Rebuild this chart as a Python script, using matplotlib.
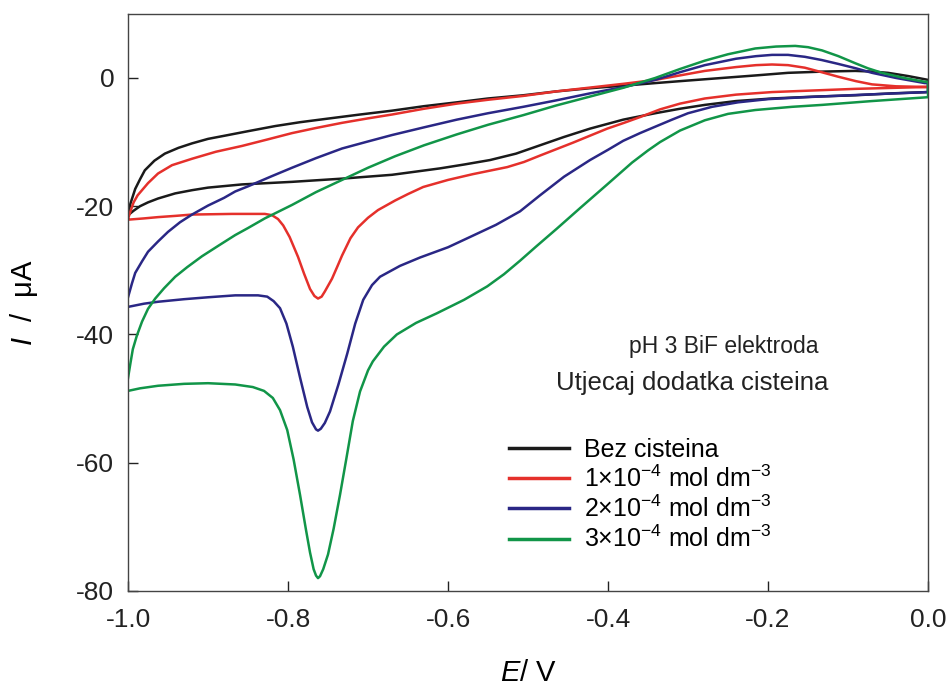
import numpy as np
import matplotlib
matplotlib.use('Agg')
import matplotlib.pyplot as plt

plt.rcParams['font.family'] = ['Liberation Sans', 'DejaVu Sans']
plt.rcParams['mathtext.fontset'] = 'custom'
plt.rcParams['mathtext.rm'] = 'Liberation Sans'
plt.rcParams['mathtext.it'] = 'Liberation Sans:italic'

# Cyclic voltammograms: E / V, I / uA
# each curve = upper branch (-1 -> 0) and lower branch (-1 -> 0)
black_up_E = [-1.0, -0.997, -0.991, -0.985, -0.979, -0.967, -0.954, -0.937, -0.92, -0.9,
              -0.879, -0.85, -0.816, -0.785, -0.754, -0.71, -0.67, -0.63, -0.589, -0.55,
              -0.506, -0.465, -0.4225, -0.38, -0.341, -0.3, -0.2575, -0.215, -0.175, -0.13,
              -0.091, -0.07, -0.05, -0.025, -0.004, 0.0]
black_up_I = [-21.3, -19.6, -17.3, -15.8, -14.4, -12.9, -11.8, -10.9, -10.2, -9.5,
              -9.0, -8.3, -7.5, -6.9, -6.4, -5.7, -5.1, -4.4, -3.8, -3.2,
              -2.7, -2.1, -1.6, -1.2, -0.8, -0.4, 0.0, 0.4, 0.8, 1.0,
              1.1, 1.0, 0.8, 0.3, -0.2, -0.3]
black_lo_E = [-1.0, -0.993, -0.985, -0.975, -0.9625, -0.941, -0.92, -0.9, -0.8575, -0.795,
              -0.7325, -0.67, -0.61, -0.58, -0.5475, -0.515, -0.485, -0.455, -0.4225, -0.381,
              -0.341, -0.31, -0.279, -0.24, -0.195, -0.14, -0.091, -0.045, 0.0]
black_lo_I = [-21.4, -20.7, -20.0, -19.4, -18.8, -18.0, -17.5, -17.1, -16.6, -16.2,
              -15.7, -15.1, -14.1, -13.5, -12.8, -11.8, -10.5, -9.2, -7.9, -6.5,
              -5.5, -4.8, -4.2, -3.6, -3.2, -2.9, -2.7, -2.4, -2.2]

red_up_E = [-1.0, -0.997, -0.993, -0.988, -0.975, -0.9625, -0.945, -0.92, -0.89, -0.8575,
            -0.826, -0.795, -0.765, -0.7325, -0.7, -0.67, -0.63, -0.589, -0.55, -0.506,
            -0.465, -0.4225, -0.38, -0.341, -0.31, -0.279, -0.24, -0.215, -0.195, -0.175,
            -0.154, -0.133, -0.1125, -0.09, -0.07, -0.04, -0.004, 0.0]
red_up_I = [-22.0, -20.8, -19.4, -18.3, -16.4, -14.9, -13.6, -12.6, -11.5, -10.6,
            -9.6, -8.6, -7.8, -7.0, -6.3, -5.7, -4.8, -4.0, -3.4, -2.8,
            -2.1, -1.5, -0.9, -0.3, 0.4, 1.1, 1.7, 2.0, 2.1, 2.0,
            1.6, 0.9, 0.2, -0.5, -1.0, -1.3, -1.4, -1.4]
red_lo_E = [-1.0, -0.98, -0.9625, -0.94, -0.92, -0.87, -0.829, -0.82, -0.8125, -0.806,
            -0.798, -0.7875, -0.78, -0.7725, -0.767, -0.7625, -0.758, -0.754, -0.745, -0.738,
            -0.7325, -0.722, -0.7125, -0.7, -0.6875, -0.666, -0.65, -0.631, -0.6, -0.569,
            -0.526, -0.505, -0.485, -0.444, -0.401, -0.38, -0.36, -0.335, -0.31, -0.279,
            -0.24, -0.195, -0.091, 0.0]
red_lo_I = [-22.1, -21.9, -21.7, -21.5, -21.3, -21.2, -21.2, -21.4, -22.0, -23.0,
            -24.8, -27.9, -30.5, -32.9, -34.0, -34.4, -34.1, -33.3, -31.3, -29.3,
            -27.7, -25.0, -23.3, -21.8, -20.6, -19.1, -18.1, -17.0, -15.9, -15.0,
            -13.9, -13.1, -12.1, -10.1, -7.9, -7.0, -6.1, -4.9, -4.0, -3.2,
            -2.6, -2.2, -1.7, -1.4]

blue_up_E = [-1.0, -0.995, -0.991, -0.9825, -0.975, -0.9625, -0.95, -0.935, -0.92, -0.9,
             -0.88, -0.866, -0.85, -0.82, -0.795, -0.765, -0.7325, -0.7, -0.67, -0.63,
             -0.589, -0.55, -0.506, -0.465, -0.4225, -0.38, -0.341, -0.31, -0.279, -0.24,
             -0.215, -0.195, -0.175, -0.154, -0.133, -0.1125, -0.09, -0.07, -0.04, -0.004, 0.0]
blue_up_I = [-34.2, -32.0, -30.4, -28.6, -27.1, -25.5, -24.0, -22.5, -21.3, -19.9,
             -18.7, -17.7, -16.9, -15.3, -14.0, -12.5, -11.0, -9.9, -8.9, -7.7,
             -6.5, -5.5, -4.5, -3.5, -2.4, -1.4, -0.3, 0.9, 2.0, 3.0,
             3.4, 3.6, 3.6, 3.3, 2.8, 2.2, 1.5, 0.8, 0.0, -0.8, -0.8]
blue_lo_E = [-1.0, -0.98, -0.9625, -0.93, -0.9, -0.866, -0.8375, -0.826, -0.818, -0.81,
             -0.802, -0.794, -0.785, -0.776, -0.77, -0.765, -0.7625, -0.759, -0.754, -0.7475,
             -0.737, -0.726, -0.716, -0.706, -0.695, -0.685, -0.66, -0.635, -0.6, -0.5725,
             -0.54, -0.51, -0.485, -0.455, -0.4225, -0.4, -0.381, -0.36, -0.341, -0.32,
             -0.3, -0.27, -0.2375, -0.2, -0.154, -0.08, 0.0]
blue_lo_I = [-35.7, -35.2, -34.9, -34.5, -34.2, -33.9, -33.9, -34.1, -34.8, -35.9,
             -38.3, -41.9, -46.7, -51.3, -53.7, -54.8, -55.0, -54.7, -53.8, -52.0,
             -47.8, -43.0, -38.3, -34.6, -32.3, -31.0, -29.3, -28.0, -26.4, -24.8,
             -22.9, -20.8, -18.3, -15.4, -12.8, -11.2, -9.8, -8.6, -7.6, -6.5,
             -5.5, -4.5, -3.8, -3.3, -3.0, -2.6, -2.2]

green_up_E = [-1.0, -0.997, -0.994, -0.989, -0.9825, -0.975, -0.966, -0.955, -0.941, -0.926,
              -0.9075, -0.885, -0.866, -0.85, -0.829, -0.795, -0.765, -0.7325, -0.7, -0.666,
              -0.63, -0.589, -0.55, -0.506, -0.465, -0.4225, -0.38, -0.341, -0.31, -0.279,
              -0.25, -0.216, -0.19, -0.166, -0.15, -0.1325, -0.112, -0.091, -0.075, -0.0575,
              -0.03, -0.004, 0.0]
green_up_I = [-46.8, -44.5, -42.3, -40.2, -38.0, -36.0, -34.4, -32.8, -31.0, -29.5,
              -27.8, -26.0, -24.5, -23.4, -21.9, -19.8, -17.8, -15.9, -14.0, -12.2,
              -10.5, -8.8, -7.3, -5.8, -4.3, -2.9, -1.5, 0.0, 1.4, 2.7,
              3.7, 4.6, 4.9, 5.0, 4.8, 4.3, 3.4, 2.3, 1.5, 0.8,
              0.0, -0.6, -0.6]
green_lo_E = [-1.0, -0.985, -0.9625, -0.93, -0.9, -0.866, -0.844, -0.83, -0.819, -0.81,
              -0.801, -0.793, -0.785, -0.7775, -0.7725, -0.768, -0.765, -0.7625, -0.76, -0.756,
              -0.75, -0.743, -0.735, -0.727, -0.719, -0.71, -0.7, -0.694, -0.68, -0.664,
              -0.64, -0.614, -0.58, -0.551, -0.53, -0.51, -0.49, -0.464, -0.435, -0.401,
              -0.37, -0.35, -0.335, -0.31, -0.279, -0.25, -0.216, -0.17, -0.1325, -0.07, 0.0]
green_lo_I = [-48.8, -48.4, -48.0, -47.7, -47.6, -47.8, -48.2, -48.8, -49.9, -51.8,
              -54.9, -59.5, -65.0, -70.5, -74.0, -76.6, -77.6, -78.0, -77.7, -76.6,
              -74.3, -70.3, -65.0, -59.3, -53.5, -48.9, -45.6, -44.2, -41.9, -40.0,
              -38.2, -36.7, -34.6, -32.5, -30.6, -28.5, -26.3, -23.5, -20.3, -16.6,
              -13.2, -11.3, -10.0, -8.2, -6.6, -5.6, -5.0, -4.5, -4.2, -3.6, -3.0]

labels = ['Bez cisteina',
          r'1×10$^{-4}$ mol dm$^{-3}$',
          r'2×10$^{-4}$ mol dm$^{-3}$',
          r'3×10$^{-4}$ mol dm$^{-3}$']
colors = ['#1a1a1a', '#e5302b', '#2a2785', '#119548']

curves = [(black_up_E, black_up_I, black_lo_E, black_lo_I),
          (red_up_E, red_up_I, red_lo_E, red_lo_I),
          (blue_up_E, blue_up_I, blue_lo_E, blue_lo_I),
          (green_up_E, green_up_I, green_lo_E, green_lo_I)]

fig = plt.figure(figsize=(9.49, 6.92), dpi=100)
ax = fig.add_axes([0.1349, 0.146, 0.8430, 0.834])

for (ue, ui, le, li), c, lab in zip(curves, colors, labels):
    E = list(ue) + list(le)[::-1]
    I = list(ui) + list(li)[::-1]
    ax.plot(E, I, color=c, lw=1.8, label=lab, solid_joinstyle='round')

ax.set_xlim(-1.0, 0.0)
ax.set_ylim(-80, 10)
ax.set_xticks(np.arange(-1.0, 0.01, 0.2))
ax.set_xticklabels(['-1.0', '-0.8', '-0.6', '-0.4', '-0.2', '0.0'])
ax.set_yticks([0, -20, -40, -60, -80])
ax.set_yticklabels(['0', '-20', '-40', '-60', '-80'])
ax.tick_params(direction='in', length=7, width=1, labelsize=19, colors='#222222')
ax.tick_params(axis='x', pad=12)
ax.tick_params(axis='y', pad=10)
for s in ax.spines.values():
    s.set_color('#444444')
    s.set_linewidth(1.0)

ax.set_xlabel(r'$\mathit{E}$/ V', fontsize=21, labelpad=20)
ax.set_ylabel(r'$\mathit{I}$  /  μA', fontsize=21, labelpad=26)

ax.text(0.745, 0.423, 'pH 3 BiF elektroda', transform=ax.transAxes,
        fontsize=16.5, ha='center', va='center', color='#222222')
ax.text(0.705, 0.36, 'Utjecaj dodatka cisteina', transform=ax.transAxes,
        fontsize=18.5, ha='center', va='center', color='#222222')

leg = ax.legend(loc='upper left', bbox_to_anchor=(0.46, 0.287), frameon=False,
                fontsize=18, handlelength=2.4, handletextpad=0.6,
                labelspacing=0.15, borderpad=0)
for line in leg.get_lines():
    line.set_linewidth(2.5)

fig.savefig('out.png', dpi=100)
